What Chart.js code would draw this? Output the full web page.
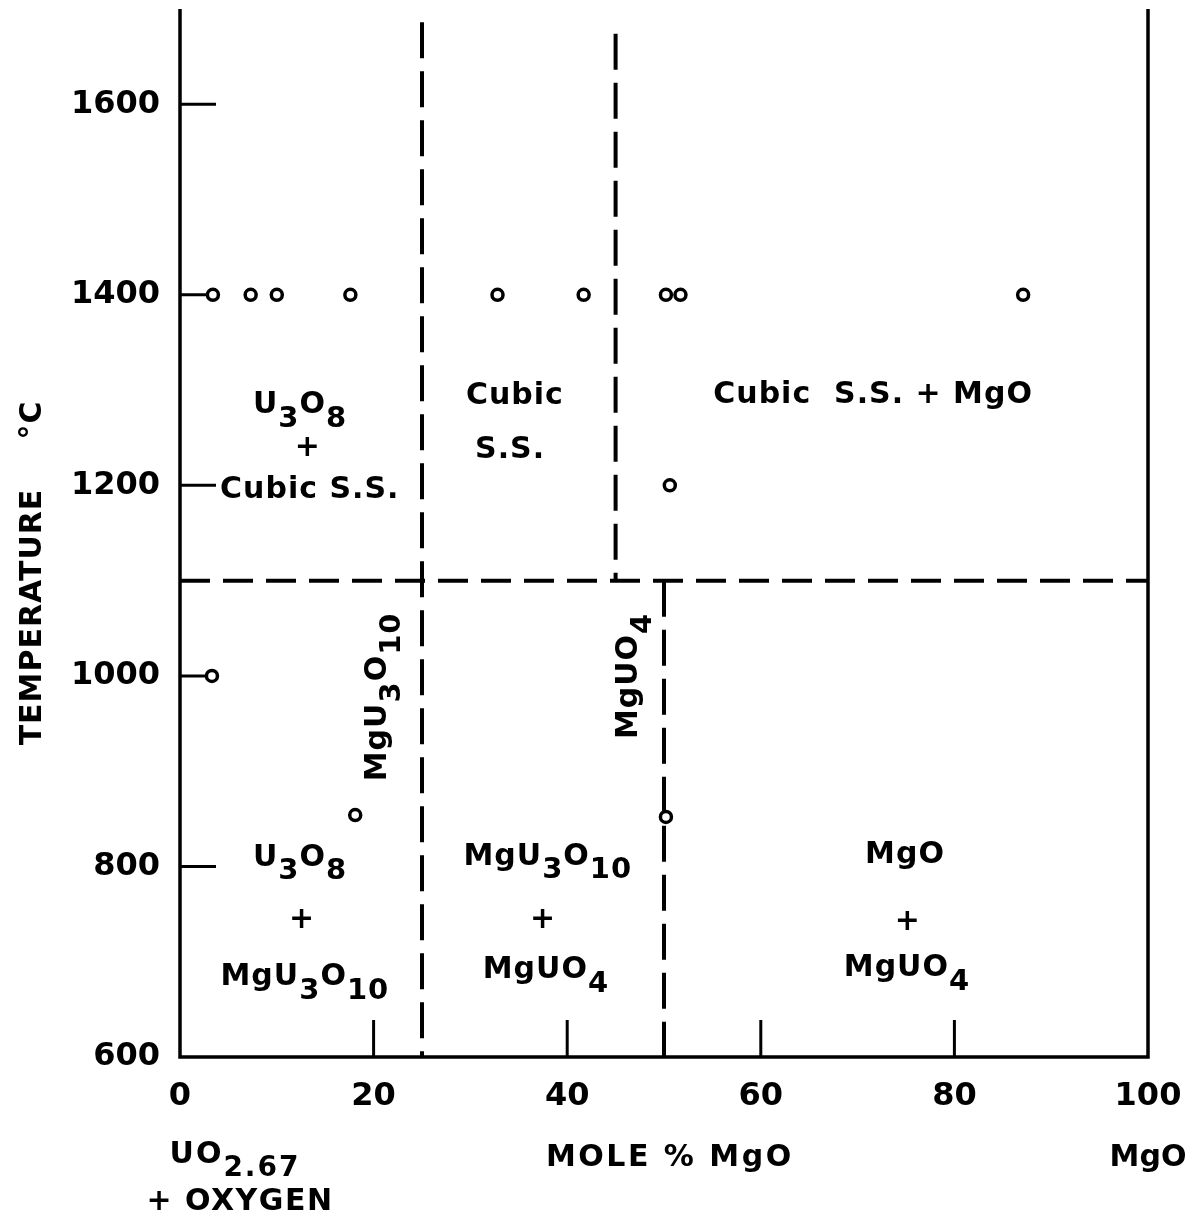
<!DOCTYPE html>
<html><head><meta charset="utf-8">
<script src="https://cdn.jsdelivr.net/npm/chart.js@4.4.1/dist/chart.umd.min.js"></script>
<style>html,body{margin:0;padding:0;background:#fff;} canvas{display:block;}</style>
</head><body>
<canvas id="c" width="1200" height="1228"></canvas>
<script>
// ---- data ----
const xTickValues = [0, 20, 40, 60, 80, 100];
const yTickValues = [600, 800, 1000, 1200, 1400, 1600];
const sampleMolePct = [3.4, 7.3, 10.0, 17.6, 32.8, 41.7, 50.2, 51.7, 87.1, 50.6, 3.3, 18.1, 50.2];
const sampleTempC   = [1400, 1400, 1400, 1400, 1400, 1400, 1400, 1400, 1400, 1200, 1000, 854, 852];
const boundaryA_mole = [25, 25];   const boundaryA_temp = [1686, 600];
const boundaryB_mole = [45, 45];   const boundaryB_temp = [1674, 1100];
const boundaryC_mole = [50, 50];   const boundaryC_temp = [1100, 600];
const boundaryD_mole = [0, 100];   const boundaryD_temp = [1100, 1100];

const regionLabels = [
  { x: 12.4, t: 1284, parts: [['U',0],['3',1],['O',0],['8',1]] },
  { x: 13.2, t: 1239, parts: [['+',0]] },
  { x: 13.4, t: 1195, parts: [['Cubic S.S.',0]] },
  { x: 34.6, t: 1294, parts: [['Cubic',0]] },
  { x: 34.1, t: 1237, parts: [['S.S.',0]] },
  { x: 71.6, t: 1295, parts: [['Cubic  S.S. + MgO',0]] },
  { x: 20.5, t: 978, rot: true, parts: [['MgU',0],['3',1],['O',0],['10',1]] },
  { x: 46.4, t: 1000, rot: true, parts: [['MgUO',0],['4',1]] },
  { x: 12.4, t: 809, parts: [['U',0],['3',1],['O',0],['8',1]] },
  { x: 12.6, t: 744, parts: [['+',0]] },
  { x: 12.9, t: 684, parts: [['MgU',0],['3',1],['O',0],['10',1]] },
  { x: 38.0, t: 810, parts: [['MgU',0],['3',1],['O',0],['10',1]] },
  { x: 37.5, t: 744, parts: [['+',0]] },
  { x: 37.8, t: 691, parts: [['MgUO',0],['4',1]] },
  { x: 74.9, t: 812, parts: [['MgO',0]] },
  { x: 75.2, t: 742, parts: [['+',0]] },
  { x: 75.1, t: 693, parts: [['MgUO',0],['4',1]] }
];

const FONT = '"DejaVu Sans", "Liberation Sans", Arial, sans-serif';
const toPts = (xs, ys) => xs.map((v, i) => ({ x: v, y: ys[i] }));

function drawRich(ctx, parts, cx, cy, opts) {
  const { font, subFont, subDy, rot, spacing } = opts;
  ctx.save();
  ctx.translate(cx, cy);
  if (rot) ctx.rotate(-Math.PI / 2);
  ctx.textBaseline = 'middle';
  ctx.textAlign = 'left';
  ctx.fillStyle = '#000';
  try { ctx.letterSpacing = (spacing || 0) + 'px'; } catch (e) {}
  let total = 0;
  const widths = parts.map(p => { ctx.font = p[1] ? subFont : font; const w = ctx.measureText(p[0]).width; total += w; return w; });
  let x = -total / 2;
  parts.forEach((p, i) => {
    ctx.font = p[1] ? subFont : font;
    ctx.fillText(p[0], x, p[1] ? subDy : 0);
    x += widths[i];
  });
  ctx.restore();
}

const framePlugin = {
  id: 'frame',
  beforeDatasetsDraw(chart) {
    const { ctx, chartArea: a, scales: { x, y } } = chart;
    ctx.save();
    ctx.strokeStyle = '#000';
    ctx.lineWidth = 3.5;
    ctx.lineCap = 'butt';
    ctx.beginPath();
    ctx.moveTo(a.left, a.top); ctx.lineTo(a.left, a.bottom); ctx.lineTo(a.right, a.bottom); ctx.lineTo(a.right, a.top);
    ctx.stroke();
    ctx.lineWidth = 3;
    yTickValues.forEach(v => {
      if (v === y.min) return;
      const py = y.getPixelForValue(v);
      ctx.beginPath(); ctx.moveTo(a.left, py); ctx.lineTo(a.left + 36, py); ctx.stroke();
    });
    xTickValues.forEach(v => {
      if (v === x.min || v === x.max) return;
      const px = x.getPixelForValue(v);
      ctx.beginPath(); ctx.moveTo(px, a.bottom); ctx.lineTo(px, a.bottom - 37); ctx.stroke();
    });
    ctx.restore();
  },
  afterDatasetsDraw(chart) {
    const { ctx, chartArea: a, scales: { x, y } } = chart;
    const regionOpts = { font: 'bold 30px ' + FONT, subFont: 'bold 29px ' + FONT, subDy: 14, spacing: 1 };
    regionLabels.forEach(l => {
      drawRich(ctx, l.parts, x.getPixelForValue(l.x), y.getPixelForValue(l.t), Object.assign({}, regionOpts, { rot: !!l.rot }));
    });
    // axis titles
    const tOpts = { font: 'bold 30px ' + FONT, subFont: 'bold 30px ' + FONT, subDy: 0, spacing: 1, rot: true };
    drawRich(ctx, [['TEMPERATURE',0]], a.left - 147, a.bottom - 440, tOpts);
    drawRich(ctx, [['°C',0]], a.left - 147, a.bottom - 637, tOpts);
    const bOpts = { font: 'bold 30px ' + FONT, subFont: 'bold 28px ' + FONT, subDy: 14, spacing: 2.5 };
    drawRich(ctx, [['MOLE % MgO',0]], x.getPixelForValue(50.6), a.bottom + 101, bOpts);
    drawRich(ctx, [['MgO',0]], x.getPixelForValue(100), a.bottom + 101, Object.assign({}, bOpts, { spacing: 0 }));
    drawRich(ctx, [['UO',0],['2.67',1]], x.getPixelForValue(0) + 55, a.bottom + 98, Object.assign({}, bOpts, { spacing: 2 }));
    drawRich(ctx, [['+ OXYGEN',0]], x.getPixelForValue(0) + 60, a.bottom + 145, Object.assign({}, bOpts, { spacing: 1.5 }));
  }
};

const dashedLine = (pts, dash) => ({
  data: pts, showLine: true, pointRadius: 0, borderColor: '#000', borderWidth: 4,
  borderDash: dash, borderCapStyle: 'butt', fill: false, tension: 0
});

const noPad = s => { s.paddingTop = 0; s.paddingBottom = 0; s.paddingLeft = 0; s.paddingRight = 0; };

new Chart(document.getElementById('c'), {
  type: 'scatter',
  data: {
    datasets: [
      dashedLine(toPts(boundaryA_mole, boundaryA_temp), [36, 13]),
      dashedLine(toPts(boundaryB_mole, boundaryB_temp), [36, 13]),
      dashedLine(toPts(boundaryC_mole, boundaryC_temp), [36, 13]),
      dashedLine(toPts(boundaryD_mole, boundaryD_temp), [30, 13]),
      {
        data: toPts(sampleMolePct, sampleTempC), showLine: false,
        pointRadius: 5.5, pointBorderWidth: 3.5, pointBackgroundColor: '#fff', pointBorderColor: '#000'
      }
    ]
  },
  options: {
    responsive: false, animation: false, devicePixelRatio: 1,
    layout: { padding: { top: 9, right: 52, left: 0, bottom: 0 } },
    plugins: { legend: { display: false }, tooltip: { enabled: false } },
    scales: {
      x: {
        type: 'linear', min: 0, max: 100,
        afterBuildTicks: s => { s.ticks = xTickValues.map(v => ({ value: v })); },
        afterFit: s => { s.height = 171; noPad(s); },
        grid: { display: false, drawTicks: false }, border: { display: false },
        ticks: { color: '#000', font: { family: FONT, size: 32, weight: 'bold' }, padding: 20, maxRotation: 0, autoSkip: false, callback: v => String(v) }
      },
      y: {
        type: 'linear', min: 600, max: 1700,
        afterBuildTicks: s => { s.ticks = yTickValues.map(v => ({ value: v })); },
        afterFit: s => { s.width = 180; noPad(s); },
        grid: { display: false, drawTicks: false }, border: { display: false },
        ticks: { color: '#000', font: { family: FONT, size: 32, weight: 'bold' }, padding: 20, autoSkip: false, callback: v => String(v) }
      }
    }
  },
  plugins: [framePlugin]
});
</script>
</body></html>
